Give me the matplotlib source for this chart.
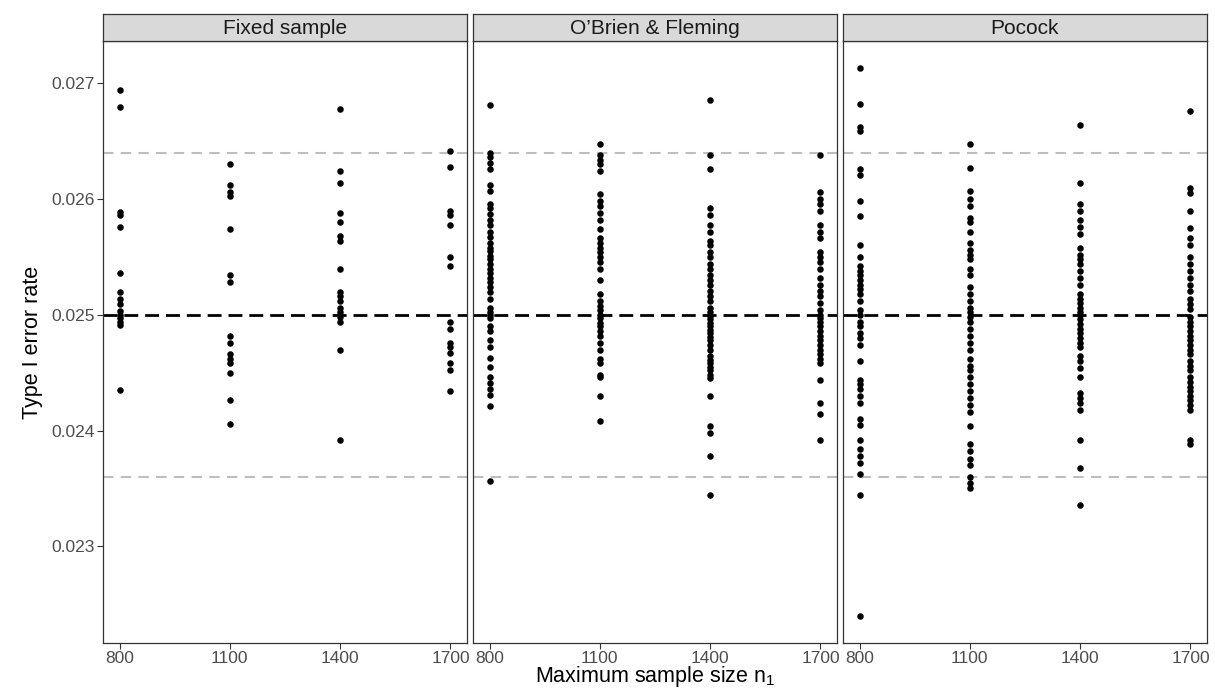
import matplotlib
matplotlib.use("Agg")
import matplotlib.pyplot as plt
import numpy as np

plt.rcParams["font.family"] = ["Liberation Sans", "DejaVu Sans"]
plt.rcParams["mathtext.fontset"] = "custom"
plt.rcParams["mathtext.rm"] = "Liberation Sans"

panels = ["Fixed sample", "O\u2019Brien & Fleming", "Pocock"]
sizes = [800, 1100, 1400, 1700]
xticks = [800, 1100, 1400, 1700]
yticks = [0.023, 0.024, 0.025, 0.026, 0.027]
target = 0.025
bounds = [0.0236, 0.0264]

fixed_800 = [0.02694, 0.02680, 0.02589, 0.02586, 0.02576, 0.02536, 0.02520, 0.02514, 0.02509,
             0.02503, 0.02500, 0.02497, 0.02494, 0.02491, 0.02435]
fixed_1100 = [0.02630, 0.02612, 0.02606, 0.02603, 0.02574, 0.02534, 0.02528, 0.02482, 0.02476,
              0.02466, 0.02462, 0.02458, 0.02450, 0.02426, 0.02406]
fixed_1400 = [0.02678, 0.02624, 0.02614, 0.02588, 0.02580, 0.02568, 0.02564, 0.02540, 0.02520,
              0.02516, 0.02512, 0.02506, 0.02502, 0.02498, 0.02494, 0.02470, 0.02392]
fixed_1700 = [0.02642, 0.02628, 0.02590, 0.02586, 0.02578, 0.02550, 0.02542, 0.02494, 0.02488,
              0.02476, 0.02472, 0.02467, 0.02458, 0.02452, 0.02434]

obf_800 = [0.02681, 0.02640, 0.02636, 0.02631, 0.02626, 0.02612, 0.02607, 0.02596, 0.02592,
           0.02587, 0.02582, 0.02578, 0.02572, 0.02567, 0.02562, 0.02558, 0.02555, 0.02551,
           0.02548, 0.02544, 0.02540, 0.02536, 0.02532, 0.02528, 0.02524, 0.02520, 0.02514,
           0.02506, 0.02502, 0.02500, 0.02497, 0.02490, 0.02486, 0.02478, 0.02472, 0.02463,
           0.02455, 0.02446, 0.02441, 0.02436, 0.02431, 0.02421, 0.02356]
obf_1100 = [0.02648, 0.02638, 0.02634, 0.02630, 0.02624, 0.02604, 0.02598, 0.02594, 0.02588,
            0.02582, 0.02574, 0.02566, 0.02562, 0.02558, 0.02554, 0.02550, 0.02546, 0.02540,
            0.02530, 0.02518, 0.02512, 0.02508, 0.02504, 0.02500, 0.02497, 0.02493, 0.02490,
            0.02486, 0.02482, 0.02476, 0.02470, 0.02462, 0.02458, 0.02448, 0.02446, 0.02430,
            0.02408]
obf_1400 = [0.02686, 0.02638, 0.02626, 0.02592, 0.02586, 0.02578, 0.02572, 0.02564, 0.02560,
            0.02554, 0.02550, 0.02544, 0.02540, 0.02534, 0.02530, 0.02526, 0.02521, 0.02516,
            0.02512, 0.02506, 0.02502, 0.02499, 0.02496, 0.02493, 0.02490, 0.02487, 0.02484,
            0.02481, 0.02478, 0.02474, 0.02470, 0.02464, 0.02461, 0.02458, 0.02455, 0.02452,
            0.02448, 0.02445, 0.02430, 0.02404, 0.02398, 0.02378, 0.02344]
obf_1700 = [0.02638, 0.02606, 0.02600, 0.02596, 0.02590, 0.02578, 0.02572, 0.02566, 0.02554,
            0.02550, 0.02546, 0.02540, 0.02532, 0.02526, 0.02521, 0.02516, 0.02510, 0.02504,
            0.02500, 0.02497, 0.02494, 0.02490, 0.02486, 0.02482, 0.02478, 0.02474, 0.02470,
            0.02466, 0.02462, 0.02458, 0.02444, 0.02424, 0.02414, 0.02392]

poc_800 = [0.02713, 0.02682, 0.02662, 0.02659, 0.02626, 0.02621, 0.02598, 0.02585, 0.02560,
           0.02550, 0.02542, 0.02538, 0.02534, 0.02530, 0.02526, 0.02522, 0.02518, 0.02512,
           0.02504, 0.02500, 0.02494, 0.02490, 0.02484, 0.02480, 0.02474, 0.02460, 0.02444,
           0.02440, 0.02436, 0.02430, 0.02424, 0.02410, 0.02405, 0.02392, 0.02384, 0.02378,
           0.02372, 0.02362, 0.02344, 0.02240]
poc_1100 = [0.02648, 0.02627, 0.02607, 0.02600, 0.02594, 0.02584, 0.02580, 0.02572, 0.02562,
            0.02556, 0.02552, 0.02548, 0.02540, 0.02534, 0.02524, 0.02518, 0.02512, 0.02506,
            0.02502, 0.02498, 0.02494, 0.02488, 0.02482, 0.02476, 0.02470, 0.02462, 0.02456,
            0.02452, 0.02446, 0.02440, 0.02434, 0.02428, 0.02422, 0.02416, 0.02404, 0.02388,
            0.02382, 0.02375, 0.02370, 0.02360, 0.02355, 0.02350]
poc_1400 = [0.02664, 0.02614, 0.02596, 0.02590, 0.02582, 0.02576, 0.02570, 0.02558, 0.02552,
            0.02548, 0.02544, 0.02538, 0.02532, 0.02526, 0.02518, 0.02514, 0.02510, 0.02506,
            0.02502, 0.02500, 0.02496, 0.02492, 0.02488, 0.02484, 0.02480, 0.02476, 0.02472,
            0.02464, 0.02460, 0.02454, 0.02446, 0.02432, 0.02428, 0.02424, 0.02418, 0.02392,
            0.02368, 0.02336]
poc_1700 = [0.02676, 0.02610, 0.02605, 0.02590, 0.02575, 0.02566, 0.02560, 0.02550, 0.02544,
            0.02538, 0.02532, 0.02526, 0.02521, 0.02514, 0.02509, 0.02505, 0.02498, 0.02494,
            0.02490, 0.02486, 0.02482, 0.02478, 0.02474, 0.02470, 0.02466, 0.02460, 0.02456,
            0.02452, 0.02446, 0.02442, 0.02438, 0.02434, 0.02430, 0.02426, 0.02422, 0.02418,
            0.02392, 0.02388]

data = {
    panels[0]: [fixed_800, fixed_1100, fixed_1400, fixed_1700],
    panels[1]: [obf_800, obf_1100, obf_1400, obf_1700],
    panels[2]: [poc_800, poc_1100, poc_1400, poc_1700],
}

W, H = 1215, 692
fig = plt.figure(figsize=(W / 100, H / 100), dpi=100)
fig.patch.set_facecolor("white")

allv = np.concatenate([np.array(v) for p in panels for v in data[p]])
lo, hi = allv.min(), allv.max()
pad = (hi - lo) * 0.05
ylim = (lo - pad, hi + pad)
xpad = (max(sizes) - min(sizes)) * 0.05
xlim = (min(sizes) - xpad, max(sizes) + xpad)

lefts = [103, 473, 843]
pw = 364
top, bottom = 41, 643
strip_top = 14
border = "#333333"
tickcol = "#4D4D4D"

for i, p in enumerate(panels):
    ax = fig.add_axes([lefts[i] / W, (H - bottom) / H, pw / W, (bottom - top) / H])
    for x, vals in zip(sizes, data[p]):
        ax.scatter(np.full(len(vals), x), vals, s=22, color="black", linewidths=0, zorder=3)
    ax.axhline(target, color="black", lw=2.0, ls=(0, (5, 2.5)), zorder=2)
    for b in bounds:
        ax.axhline(b, color="#BEBEBE", lw=1.5, ls=(0, (5, 3.5)), zorder=1)
    ax.set_xlim(*xlim)
    ax.set_ylim(*ylim)
    ax.set_xticks(xticks)
    ax.set_xticklabels([str(t) for t in xticks], fontsize=12.5, color=tickcol)
    ax.set_yticks(yticks)
    if i == 0:
        ax.set_yticklabels([f"{t:.3f}" for t in yticks], fontsize=12.5, color=tickcol)
        ax.set_ylabel("Type I error rate", fontsize=15.5, labelpad=6)
    else:
        ax.tick_params(axis="y", left=False, labelleft=False)
    ax.tick_params(axis="both", color=border, length=4, width=0.8, pad=2)
    for s in ax.spines.values():
        s.set_color(border)
        s.set_linewidth(0.9)
    sax = fig.add_axes([lefts[i] / W, (H - top) / H, pw / W, (top - strip_top) / H])
    sax.set_facecolor("#D9D9D9")
    sax.set_xticks([])
    sax.set_yticks([])
    for s in sax.spines.values():
        s.set_color(border)
        s.set_linewidth(0.9)
    sax.text(0.5, 0.48, p, ha="center", va="center", fontsize=15, color="#1A1A1A",
             transform=sax.transAxes)

fig.text((103 + 1207) / 2 / W, 3 / H, "Maximum sample size $\\mathregular{n_1}$",
         ha="center", va="bottom", fontsize=15.5)

fig.savefig("out.png", dpi=100, facecolor="white")
